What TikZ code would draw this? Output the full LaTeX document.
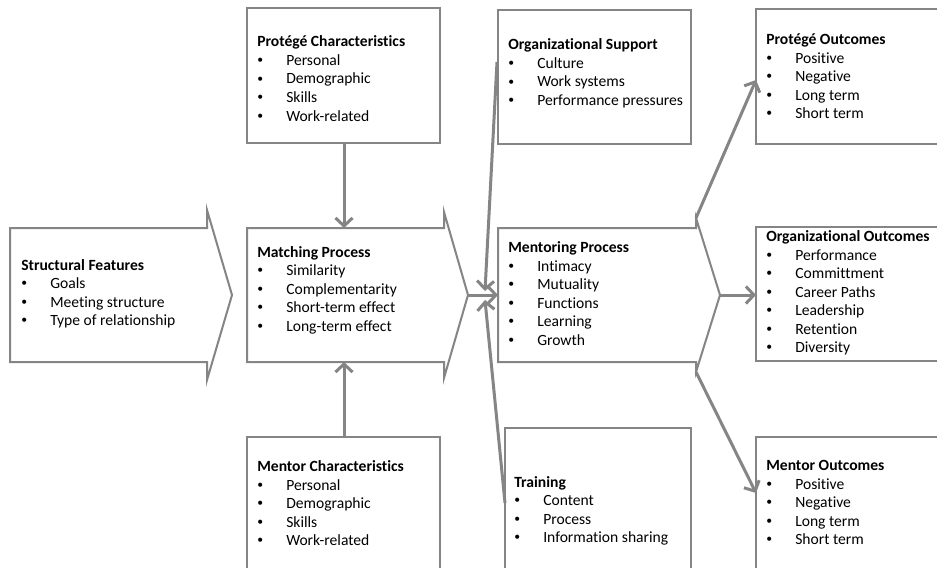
\documentclass[tikz,border=0pt]{standalone}
\usepackage{graphicx}
\usepackage{fontspec}
\setmainfont{Carlito}[Ligatures=NoCommon]
\usetikzlibrary{arrows.meta,calc}

\definecolor{linegray}{HTML}{858585}

% bullet item: small bullet followed by a tab stop
\newcommand\bul{\makebox[21.75pt][l]{\raisebox{0.25ex}{\scalebox{0.75}{•}}}}

\tikzset{
  frame/.style={draw=linegray, line width=1.5pt, fill=white, line join=miter},
  link/.style={draw=linegray, line width=2.25pt,
    -{Straight Barb[length=6pt,width=12.75pt]}},
  txt/.style={anchor=base west, inner sep=0pt,
    font=\fontsize{11.7pt}{13.875pt}\selectfont},
}

\begin{document}
\begin{tikzpicture}[x=0.75pt, y=-0.75pt]
\useasboundingbox (0,0) rectangle (937,567);
\fill[white] (0,0) rectangle (937,567);
\clip (0,0) rectangle (937,567);

% ---- chevron-shaped stages ----
\draw[frame] (10,228) -- (207,228) -- (207,210) -- (232,295) -- (207,380)
  -- (207,362) -- (10,362) -- cycle;
\draw[frame] (247,228) -- (444,228) -- (444,212) -- (468,295) -- (444,378)
  -- (444,362) -- (247,362) -- cycle;
\draw[frame] (498,228) -- (696,228) -- (696,218) -- (720,295) -- (696,372)
  -- (696,362) -- (498,362) -- cycle;

\coordinate (matchtop) at (344,228);
\coordinate (matchbot) at (344,362);
\coordinate (matchtip) at (468,295);
\coordinate (mentin)   at (498,295);
\coordinate (convtop)  at (485,291);
\coordinate (convbot)  at (485,300);
\coordinate (mentup)   at (696,218);
\coordinate (menttip)  at (720,295);
\coordinate (mentdown) at (696,372);

% ---- rectangular boxes ----
\path[frame] (247,8) rectangle (440,143);
\path[frame] (247,437) rectangle (440,600);
\path[frame] (498,10) rectangle (691,144);
\path[frame] (505,428) rectangle (691,600);
\path[frame] (756,9) rectangle (960,144);
\path[frame] (756,227) rectangle (960,361);
\path[frame] (756,437) rectangle (960,600);

\coordinate (protcharS) at (344,143);
\coordinate (mentcharN) at (344,437);
\coordinate (orgsupW)   at (497,62);
\coordinate (trainW)    at (505,503);
\coordinate (protoutW)  at (756,80);
\coordinate (orgoutW)   at (756,295);
\coordinate (mentoutW)  at (756,493);

% ---- connectors ----
\draw[link] (protcharS) -- (matchtop);
\draw[link] (mentcharN) -- (matchbot);
\draw[link] (orgsupW) -- (convtop);
\draw[link] (trainW) -- (convbot);
\draw[link] (matchtip) -- (mentin);
\draw[link] (mentup) -- (protoutW);
\draw[link] (menttip) -- (orgoutW);
\draw[link] (mentdown) -- (mentoutW);

% ---- texts ----
\node[txt] (tstruct) at (21,270) {\begin{tabular}[t]{@{}l@{}}
  \textbf{Structural Features}\\ \bul Goals\\ \bul Meeting structure\\
  \bul Type of relationship\end{tabular}};

\node[txt] (tprotchar) at (257,47) {\begin{tabular}[t]{@{}l@{}}
  \textbf{Protégé Characteristics}\\ \bul Personal\\ \bul Demographic\\
  \bul Skills\\ \bul Work-related\end{tabular}};

\node[txt] (tmatch) at (257,257) {\begin{tabular}[t]{@{}l@{}}
  \textbf{Matching Process}\\ \bul Similarity\\ \bul Complementarity\\
  \bul Short-term effect\\ \bul Long-term effect\end{tabular}};

\node[txt] (tmentchar) at (257,471.5) {\begin{tabular}[t]{@{}l@{}}
  \textbf{Mentor Characteristics}\\ \bul Personal\\ \bul Demographic\\
  \bul Skills\\ \bul Work-related\end{tabular}};

\node[txt] (torgsup) at (508,50) {\begin{tabular}[t]{@{}l@{}}
  \textbf{Organizational Support}\\ \bul Culture\\ \bul Work systems\\
  \bul Performance pressures\end{tabular}};

\node[txt] (tmentor) at (508,252.5) {\begin{tabular}[t]{@{}l@{}}
  \textbf{Mentoring Process}\\ \bul Intimacy\\ \bul Mutuality\\
  \bul Functions\\ \bul Learning\\ \bul Growth\end{tabular}};

\node[txt] (ttrain) at (514,487) {\begin{tabular}[t]{@{}l@{}}
  \textbf{Training}\\ \bul Content\\ \bul Process\\
  \bul Information sharing\end{tabular}};

\node[txt] (tprotout) at (766,44.8) {\begin{tabular}[t]{@{}l@{}}
  \textbf{Protégé Outcomes}\\ \bul Positive\\ \bul Negative\\
  \bul Long term\\ \bul Short term\end{tabular}};

\node[txt] (torgout) at (766,241.8) {\begin{tabular}[t]{@{}l@{}}
  \textbf{Organizational Outcomes}\\ \bul Performance\\ \bul Committment\\
  \bul Career Paths\\ \bul Leadership\\ \bul Retention\\ \bul Diversity\end{tabular}};

\node[txt] (tmentout) at (766,470.7) {\begin{tabular}[t]{@{}l@{}}
  \textbf{Mentor Outcomes}\\ \bul Positive\\ \bul Negative\\
  \bul Long term\\ \bul Short term\end{tabular}};
\end{tikzpicture}
\end{document}
